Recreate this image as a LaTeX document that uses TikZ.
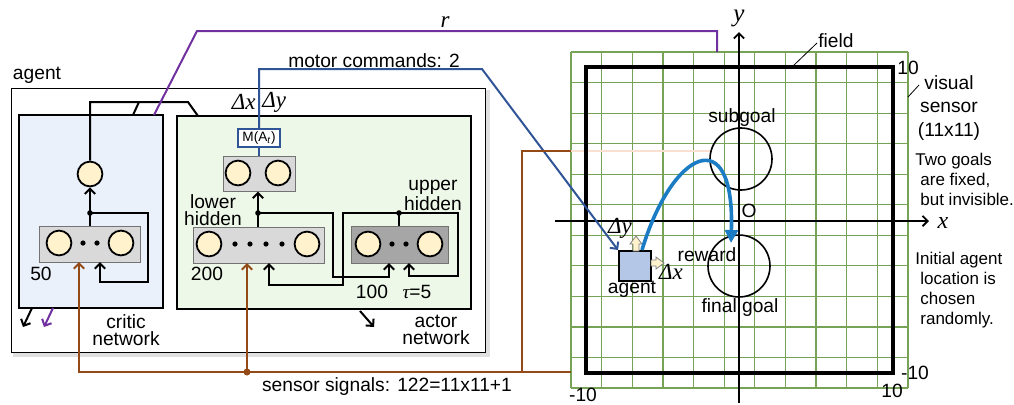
\documentclass[tikz,border=0pt]{standalone}
\usepackage{fontspec}
\setmainfont{Liberation Sans}
\newfontfamily\srf{Liberation Serif}
\usetikzlibrary{arrows.meta,calc}
\definecolor{critfill}{HTML}{EAF1FA}
\definecolor{actfill}{HTML}{EEF8E8}
\definecolor{unitfill}{HTML}{FFF2CC}
\definecolor{layfill}{HTML}{D9D9D9}
\definecolor{upfill}{HTML}{A6A6A6}
\definecolor{purp}{HTML}{7030A0}
\definecolor{brn}{HTML}{934A17}
\definecolor{mblue}{HTML}{2F5597}
\definecolor{tblue}{HTML}{1B7CC4}
\definecolor{grd}{HTML}{76A356}
\definecolor{agfill}{HTML}{B4C7E7}
\definecolor{peach}{HTML}{FBE0D2}
\tikzset{
  unit/.style={circle, draw, line width=0.9pt, fill=unitfill, minimum size=12.4pt, inner sep=0pt},
  layer/.style={draw=black!55, line width=0.5pt, fill=layfill, inner sep=0pt},
  net/.style={draw, line width=1pt, inner sep=0pt},
  conn/.style={line width=1pt},
  barb/.style={-{Straight Barb[length=2.6pt,width=5.2pt]}},
  lbl/.style={font=\fontsize{9.6}{8.3}\selectfont, inner sep=0pt, align=center},
  note/.style={font=\fontsize{8.5}{10}\selectfont, inner sep=0pt, align=left, anchor=west},
  mlbl/.style={font=\srf\itshape\fontsize{11.5}{12}\selectfont, inner sep=0pt},
  jdot/.style={circle, fill, inner sep=0pt, minimum size=2.8pt},
  ndot/.style={circle, fill, inner sep=0pt, minimum size=2.6pt},
}
\begin{document}
\begin{tikzpicture}[x=0.5pt,y=-0.5pt]
\useasboundingbox (0,0) rectangle (1014,404);

% ---------- agent ----------
\fill[black!22] (14,91) rectangle (488,355);
\fill[black!12] (12.5,89.5) rectangle (489.5,356.5);
\node[draw, line width=0.5pt, fill=white, minimum width=237pt, minimum height=132pt, inner sep=0pt] (agentbox) at (248,220) {};
\node[lbl] (agentlbl) at (37,75) {agent};

\node[net, fill=critfill, minimum width=72pt, minimum height=96.5pt] (critic) at (91,211.5) {};
\node[net, fill=actfill, minimum width=147pt, minimum height=96.5pt] (actor) at (324,212.5) {};

% critic internals
\node[layer, minimum width=50.5pt, minimum height=18pt] (chid) at (89.5,244) {};
\node[unit] (ch1) at (59,243) {};
\node[unit] (ch2) at (121,243) {};
\node[ndot] (cd1) at (83,243) {};
\node[ndot] (cd2) at (97,243) {};
\node[unit] (cout) at (90,174) {};
\coordinate (cj) at (90,213);
\draw[conn] (chid.north -| cout.south) -- (cj);
\draw[conn,barb] (cj) -- (cout.south);
\node[jdot] at (cj) {};
\draw[conn,barb] (cj) -- (148,213) -- (148,282) -- (100,282) -- (100,262);
\draw[conn] (cout.north) -- (90,102) -- (188,102) -- (198,116);
\draw[conn] (139,102) -- (133,115);
\node[lbl] (l50) at (41,274) {50};

% actor internals
\node[layer, minimum width=36pt, minimum height=17.5pt] (outl) at (259,173.5) {};
\node[unit] (o1) at (238,173) {};
\node[unit] (o2) at (278,173) {};
\node[draw=mblue, line width=0.6pt, fill=white, minimum width=21pt, minimum height=9pt,
      inner sep=0pt, font=\fontsize{6.8}{7}\selectfont] (mbox) at (259,138) {M(A\textsubscript{\itshape t})};
\node[layer, minimum width=65.5pt, minimum height=18pt] (lowh) at (258.5,245) {};
\node[unit] (lh1) at (209,244) {};
\node[unit] (lh2) at (307,244) {};
\foreach \xx in {235,250,266,282} \node[ndot] at (\xx,244) {};
\node[layer, fill=upfill, minimum width=48.5pt, minimum height=18.5pt] (upph) at (399.5,244.5) {};
\node[unit] (uh1) at (368,244) {};
\node[unit] (uh2) at (430,244) {};
\node[ndot] at (392,244) {};
\node[ndot] at (406,244) {};

\coordinate (lj) at (258,213);
\coordinate (uj) at (399,213);
\draw[conn,barb] (lowh.north -| lj) -- (outl.south -| lj);
\node[jdot] at (lj) {};
\draw[conn,barb] (lj) -- (333,213) -- (333,277) -- (389,277) -- (389,263);
\draw[conn] (upph.north -| uj) -- (uj);
\draw[conn,barb] (uj) -- (343,213) -- (343,285) -- (269,285) -- (269,263);
\draw[conn,barb] (uj) -- (458,213) -- (458,276) -- (409,276) -- (409,263);
\node[jdot] at (uj) {};

\node[lbl] (lowlbl) at (213,210) {lower\\hidden};
\node[lbl] (upplbl) at (433,195) {upper\\hidden};
\node[lbl] (l200) at (207,274) {200};
\node[lbl] (l100) at (372,292) {100};
\node[lbl] (ltau) at (417,292) {{\srf\itshape τ}=5};
\node[lbl] (critlbl) at (126,330) {critic\\network};
\node[lbl] (actlbl) at (436,330) {actor\\network};

\draw[conn,barb] (32,308) -- (23,327);
\draw[conn,barb,purp] (53,308) -- (44,327);
\draw[conn,barb] (360,311) -- (374,327);

\node[mlbl, anchor=east] (dxl) at (256,102) {Δx};
\node[mlbl, anchor=west] (dyl) at (262,102) {Δy};

% ---------- field ----------
\foreach \i in {0,...,11} {
  \draw[grd, line width=0.6pt] ({571+\i*30.636},52) -- ({571+\i*30.636},388);
  \draw[grd, line width=0.6pt] (571,{52+\i*30.545}) -- (908,{52+\i*30.545});
}
\draw[peach, line width=1pt] (571,151) -- (710,151);
\node[draw, line width=1.6pt, minimum width=153.5pt, minimum height=153pt, inner sep=0pt] (field) at (739.5,220) {};
\draw[line width=0.9pt, barb] (555,221) -- (929,221);
\draw[line width=0.9pt, barb] (739,403) -- (739,32);
\node[mlbl, font=\srf\itshape\fontsize{12}{12}\selectfont] (xl) at (943,223) {x};
\node[mlbl, font=\srf\itshape\fontsize{12.5}{12.5}\selectfont] (yl) at (739,18) {y};
\node[lbl] (ol) at (749,211) {O};

\node[circle, draw, line width=0.8pt, minimum size=31pt, inner sep=0pt] (subg) at (741,159) {};
\node[circle, draw, line width=0.8pt, minimum size=31pt, inner sep=0pt] (fing) at (739,266) {};
\node[lbl] (subl) at (742,118) {subgoal};
\node[lbl] (finl) at (740,308) {final goal};
\node[lbl] (rewl) at (707,255) {reward};

\node[draw, line width=1pt, fill=agfill, minimum width=16pt, minimum height=15pt, inner sep=0pt] (agentsq) at (635,266) {};
\filldraw[fill=unitfill, draw=black!50, line width=0.4pt] (633,251) -- (633,244) -- (630,244) -- (636,236) -- (642,244) -- (639,244) -- (639,251) -- cycle;
\filldraw[fill=unitfill, draw=black!50, line width=0.4pt] (651,260) -- (656,260) -- (656,257) -- (664,263) -- (656,269) -- (656,266) -- (651,266) -- cycle;
\node[mlbl] (dyf) at (620,228) {Δy};
\node[mlbl] (dxf) at (671,272) {Δx};
\node[lbl] (agl) at (632,289) {agent};

\draw[tblue, line width=1.8pt, -{Triangle[length=6.5pt,width=6.5pt]}]
  ($(agentsq.north)+(7,0)$) .. controls (672,150) and (735,120) .. (731,243);

\node[lbl] (fieldl) at (836,41) {field};
\draw[line width=0.4pt] (793,66) -- (817,43);
\node[lbl] (t10a) at (908,68) {10};
\node[lbl, font=\fontsize{9.6}{11.7}\selectfont] (vis) at (949,108) {visual\\sensor\\(11x11)};
\draw[line width=0.4pt] (908,97) -- (919,85);
\node[note] (two) at (915,179) {Two goals\\\hspace*{2.5pt}are fixed,\\\hspace*{2.5pt}but invisible.};
\node[note] (init) at (915,290) {Initial agent\\\hspace*{2.5pt}location is\\\hspace*{2.5pt}chosen\\\hspace*{2.5pt}randomly.};
\node[lbl] (tm10a) at (915,373) {-10};
\node[lbl] (t10b) at (892,391) {10};
\node[lbl] (tm10b) at (583,395) {-10};

% ---------- connectors ----------
\draw[purp, line width=1pt] (154,115) -- (197,31) -- (717,31) -- (717,52);
\node[mlbl] (rl) at (445,22) {r};

\draw[mblue, line width=1pt] (outl.north -| mbox) -- (mbox.south);
\draw[mblue, line width=1pt, barb] (mbox.north) -- (259,69) -- (482,69) -- (agentsq.north west);
\node[lbl] (motl) at (374,61) {motor commands: 2};

\draw[brn, line width=1pt, barb] (571,372) -- (79,372) -- (79,262);
\draw[brn, line width=1pt, barb] (247,372) -- (247,263);
\node[jdot, brn, minimum size=3.5pt] at (247,372) {};
\draw[brn, line width=1pt] (571,151) -- (522,151) -- (522,372);
\node[lbl] (sensl) at (387,387) {sensor signals: 122=11x11+1};
\end{tikzpicture}
\end{document}
